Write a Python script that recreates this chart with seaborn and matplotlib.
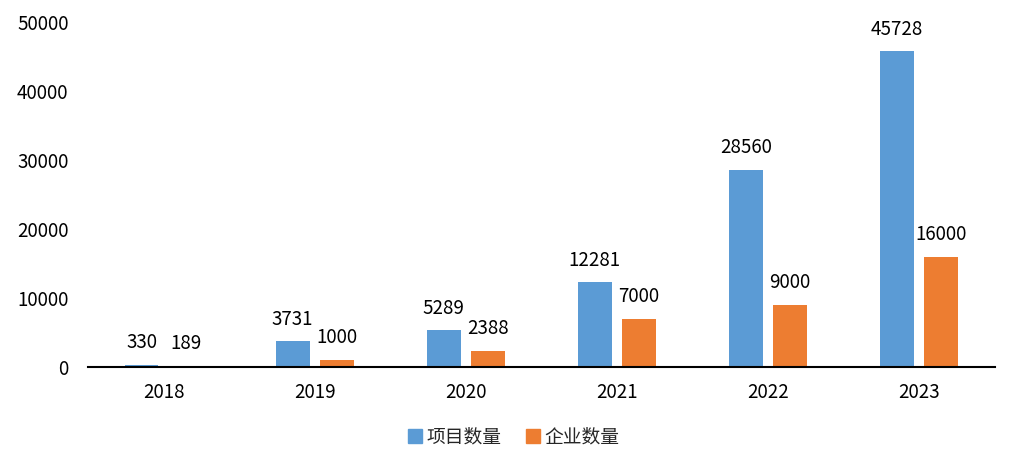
import matplotlib
matplotlib.use("Agg")
import matplotlib.pyplot as plt
from matplotlib.lines import Line2D
import seaborn as sns
import pandas as pd

years = ["2018", "2019", "2020", "2021", "2022", "2023"]
projects = [330, 3731, 5289, 12281, 28560, 45728]
companies = [189, 1000, 2388, 7000, 9000, 16000]
series_names = ["项目数量", "企业数量"]
colors = ["#5B9BD5", "#ED7D31"]

sns.set_style("white")
plt.rcParams['font.family'] = ['Noto Sans CJK SC', 'DejaVu Sans']

df = pd.DataFrame({
    "year": years * 2,
    "value": projects + companies,
    "series": [series_names[0]] * len(years) + [series_names[1]] * len(years),
})

fig = plt.figure(figsize=(10.17, 4.69), dpi=100)
ax = fig.add_axes([0.0865, 0.2175, 0.8915, 0.7356])

sns.barplot(data=df, x="year", y="value", hue="series", palette=colors,
            width=0.583, gap=0.23, ax=ax, legend=False, errorbar=None,
            saturation=1, linewidth=0, edgecolor="none")

for cont in ax.containers:
    for rect in cont:
        h = rect.get_height()
        ax.annotate(f"{int(round(h))}", (rect.get_x() + rect.get_width() / 2, h),
                    xytext=(0, 16), textcoords="offset points",
                    ha="center", va="center", fontsize=13.5, color="black")

ax.set_ylim(0, 50000)
ax.set_yticks(range(0, 50001, 10000))
ax.set_xlim(-0.5, len(years) - 0.5)
ax.set_xlabel("")
ax.set_ylabel("")
ax.tick_params(axis="both", length=0, labelsize=13.5, colors="black")
ax.tick_params(axis="x", pad=11)
ax.tick_params(axis="y", pad=14)
for s in ["top", "right", "left"]:
    ax.spines[s].set_visible(False)
ax.spines["bottom"].set_color("black")
ax.spines["bottom"].set_linewidth(1.5)
ax.grid(False)

handles = [Line2D([0], [0], marker="s", linestyle="none", markersize=10,
                  markerfacecolor=c, markeredgecolor=c) for c in colors]
fig.legend(handles, series_names, loc="center", bbox_to_anchor=(0.504, 0.068),
           ncol=2, frameon=False, fontsize=13.5, handletextpad=0.1,
           columnspacing=1.2, handlelength=1.0)

fig.savefig("out.png", dpi=100)
